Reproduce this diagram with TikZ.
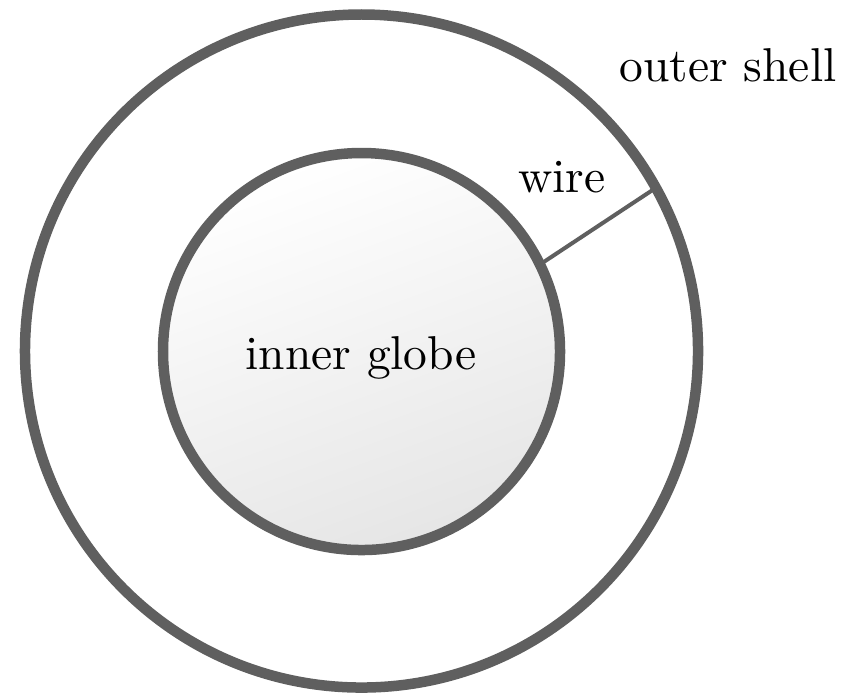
\documentclass[tikz,border=0pt]{standalone}
\definecolor{linegray}{RGB}{95,95,95}
\tikzset{
  ring/.style={circle, draw=linegray, line width=2.21pt, inner sep=0pt, outer sep=0pt},
  wireline/.style={draw=linegray, line width=0.84pt},
  lbl/.style={inner sep=0pt, font=\fontsize{10}{12}\selectfont}
}
\begin{document}
\begin{tikzpicture}[x=0.2105pt, y=-0.2105pt]
\useasboundingbox (0,0) rectangle (845,695);
\node[ring, minimum size=141.67pt] (shell) at (361.5,351) {};
\node[ring, minimum size=83.57pt, top color=white, bottom color=black!10, shading angle=20] (globe) at (361.5,351.5) {};
\draw[wireline] (globe.26.5) -- (shell.29);
\node[lbl] (globetext) at (361,358) {inner globe};
\node[lbl] (wiretext) at (562,177) {wire};
\node[lbl] (shelltext) at (728,65) {outer shell};
\end{tikzpicture}
\end{document}
